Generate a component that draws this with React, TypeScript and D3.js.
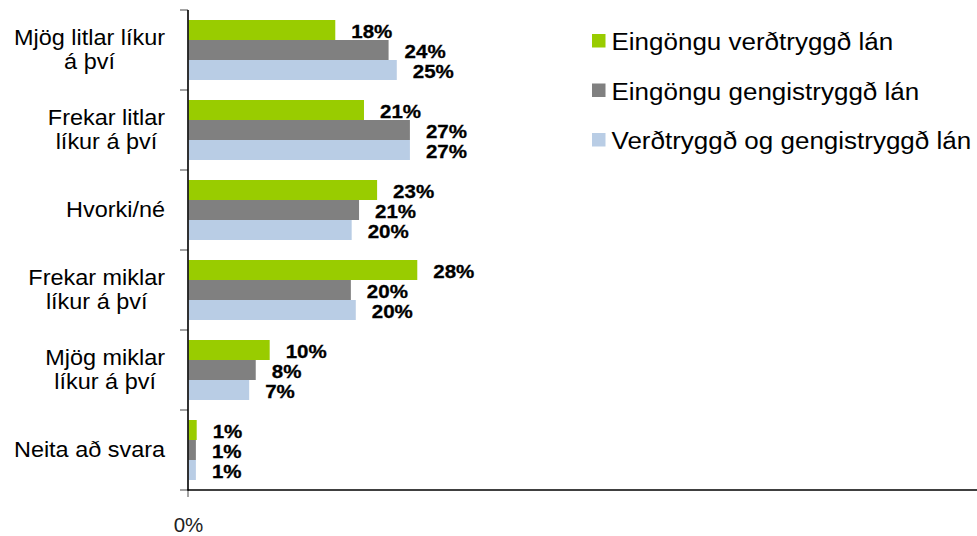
import React, { useEffect, useRef } from "react";
import * as d3 from "d3";

const categories = [
  "Mjög litlar líkur\ná því",
  "Frekar litlar\nlíkur á því",
  "Hvorki/né",
  "Frekar miklar\nlíkur á því",
  "Mjög miklar\nlíkur á því",
  "Neita að svara",
];
const seriesNames = [
  "Eingöngu verðtryggð lán",
  "Eingöngu gengistryggð lán",
  "Verðtryggð og gengistryggð lán",
];
const seriesColors = ["#99CC00", "#808080", "#B9CDE5"];
const verdtryggd = [17.9, 21.4, 23.0, 27.9, 9.9, 1.0];
const gengistryggd = [24.4, 27.0, 20.8, 19.8, 8.2, 0.9];
const baedi = [25.4, 27.0, 19.9, 20.4, 7.4, 0.9];
const seriesValues = [verdtryggd, gengistryggd, baedi];
const xTickLabels = ["0%"];

const W = 977;
const H = 536;

export default function App() {
  const ref = useRef<SVGSVGElement | null>(null);

  useEffect(() => {
    const svg = d3.select(ref.current);
    svg.selectAll("*").remove();
    const font = "'Liberation Sans', Arial, sans-serif";

    const x = d3.scaleLinear().domain([0, 100]).range([188.5, 188.5 + 820]);
    const y = d3.scaleBand<string>().domain(categories).range([10, 490]).paddingInner(0);
    const ySub = d3
      .scaleBand<number>()
      .domain(d3.range(seriesNames.length))
      .range([10, 70])
      .padding(0);

    // bars
    seriesValues.forEach((vals, si) => {
      svg
        .append("g")
        .selectAll("rect")
        .data(vals)
        .join("rect")
        .attr("x", x(0))
        .attr("y", (_, i) => (y(categories[i]) as number) + (ySub(si) as number))
        .attr("width", (d) => x(d) - x(0))
        .attr("height", ySub.bandwidth())
        .attr("fill", seriesColors[si]);

      svg
        .append("g")
        .selectAll("text")
        .data(vals)
        .join("text")
        .attr(
          "transform",
          (d, i) =>
            `translate(${x(d) + 16},${(y(categories[i]) as number) + (ySub(si) as number) + 18.3}) scale(1.08,1)`
        )
        .attr("font-family", font)
        .attr("font-weight", "bold")
        .attr("font-size", 19)
        .attr("fill", "#000")
        .attr("stroke", "#000")
        .attr("stroke-width", 0.3)
        .text((d) => d3.format(".0f")(d) + "%");
    });

    // axes
    const ticks = d3.range(categories.length + 1).map((i) => 10 + i * y.bandwidth());
    svg
      .append("g")
      .selectAll("line")
      .data(ticks)
      .join("line")
      .attr("x1", 180)
      .attr("x2", 188)
      .attr("y1", (d) => d)
      .attr("y2", (d) => d)
      .attr("stroke", "#868686")
      .attr("stroke-width", 1.5);
    svg
      .append("line")
      .attr("x1", 188)
      .attr("x2", 188)
      .attr("y1", 490)
      .attr("y2", 497)
      .attr("stroke", "#868686")
      .attr("stroke-width", 1.5);
    svg
      .append("line")
      .attr("x1", x(0) - 0.5)
      .attr("x2", x(0) - 0.5)
      .attr("y1", 10)
      .attr("y2", 490.5)
      .attr("stroke", "#000")
      .attr("stroke-width", 1.6);
    svg
      .append("line")
      .attr("x1", x(0) - 1)
      .attr("x2", W)
      .attr("y1", 490)
      .attr("y2", 490)
      .attr("stroke", "#000")
      .attr("stroke-width", 1.6);

    svg
      .append("text")
      .attr("x", x(0))
      .attr("y", 531.5)
      .attr("text-anchor", "middle")
      .attr("font-family", font)
      .attr("font-size", 20.5)
      .attr("fill", "#222")
      .text(xTickLabels[0]);

    // category labels
    categories.forEach((c) => {
      const lines = c.split("\n");
      const cy = (y(c) as number) + y.bandwidth() / 2;
      const g = svg
        .append("g")
        .attr("transform", `translate(165,${cy}) scale(1.065,1)`);
      const texts = lines.map((ln, li) =>
        g
          .append("text")
          .attr("y", 7 + (li - (lines.length - 1) / 2) * 23.4)
          .attr("text-anchor", "middle")
          .attr("font-family", font)
          .attr("font-size", 22)
          .attr("fill", "#000")
          .text(ln)
      );
      const maxW = d3.max(texts, (t) => (t.node() as SVGTextElement).getComputedTextLength()) || 0;
      texts.forEach((t) => t.attr("x", -maxW / 2));
    });

    // legend
    seriesNames.forEach((name, i) => {
      const top = 34 + i * 49.5;
      svg
        .append("rect")
        .attr("x", 592)
        .attr("y", top)
        .attr("width", 13.5)
        .attr("height", 13.5)
        .attr("fill", seriesColors[i]);
      svg
        .append("text")
        .attr("transform", `translate(611.5,${top + 16}) scale(1.13,1)`)
        .attr("font-family", font)
        .attr("font-size", 23)
        .attr("fill", "#000")
        .text(name);
    });
  }, []);

  return (
    <svg
      ref={ref}
      width={W}
      height={H}
      style={{ position: "absolute", left: 0, top: 0, background: "#fff" }}
    />
  );
}
